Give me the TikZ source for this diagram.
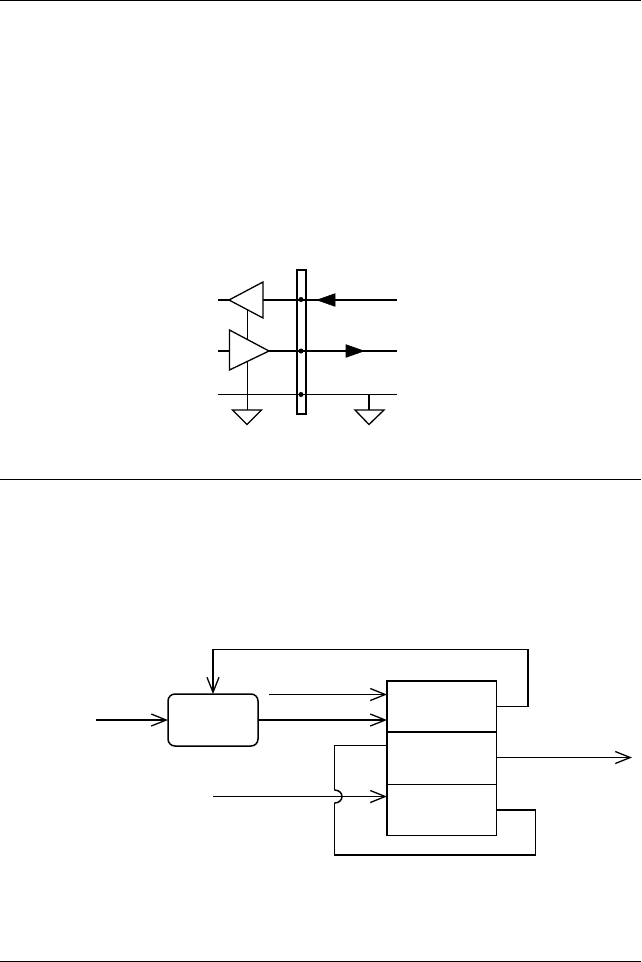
\documentclass[tikz,border=0pt]{standalone}
\usetikzlibrary{arrows.meta}
\tikzset{
  thinw/.style={line width=1pt},
  thickw/.style={line width=2pt},
  barb/.style={-{Straight Barb[length=15pt,width=12pt,line width=1.3pt]}},
  solidtip/.style={fill=black,draw=black,line width=0.6pt,line join=miter},
  amp/.style={draw,fill=white,line width=1.3pt,line join=miter},
  gnd/.style={draw,fill=white,line width=1.3pt,line join=miter},
  junction/.style={circle,fill=black,inner sep=0pt,minimum size=5pt},
  block/.style={draw,rectangle,inner sep=0pt,outer sep=0pt},
}
\begin{document}
\begin{tikzpicture}[x=1pt,y=-1pt]
\useasboundingbox (0,0) rectangle (641,962);
% page rules
\coordinate (t1) at (0,0.5); \coordinate (t2) at (641,0.5);
\coordinate (m1) at (0,479.5); \coordinate (m2) at (641,479.5);
\coordinate (b1) at (0,961.5); \coordinate (b2) at (641,961.5);
\draw[thinw] (t1)--(t2);
\draw[thinw] (m1)--(m2);
\draw[thinw] (b1)--(b2);

% ---------- upper figure ----------
\node[block,line width=1.7pt,minimum width=8.5pt,minimum height=144pt] (bar) at (301.5,342) {};
\coordinate (l1a) at (218,300); \coordinate (l1b) at (397,300);
\coordinate (l2a) at (218,351); \coordinate (l2b) at (397,351);
\coordinate (l3a) at (218,394.5); \coordinate (l3b) at (397,394.5);
\draw[thickw] (l1a)--(l1b);
\draw[thickw] (l2a)--(l2b);
\draw[thinw] (l3a)--(l3b);
\coordinate (g1) at (247.5,410); \coordinate (g2top) at (369,394); \coordinate (g2) at (369,410);
\coordinate (en) at (247.5,309);
\draw[thinw] (en)--(g1);
\draw[line width=1.6pt] (g2top)--(g2);
% amplifiers
\draw[amp] (229,300)--(263,282)--(263,318)--cycle;
\draw[amp] (229.5,330)--(269,351)--(229.5,370)--cycle;
% grounds
\draw[gnd] (232.5,410)--(261.5,410)--(247,424.5)--cycle;
\draw[gnd] (355,410)--(384,410)--(369,424.5)--cycle;
% junctions
\node[junction] (d1) at (301,299.5) {};
\node[junction] (d2) at (301,351) {};
\node[junction] (d3) at (301,394.5) {};
% direction marks
\draw[solidtip] (317,300)--(335,293.7)--(335,306.3)--cycle;
\draw[solidtip] (364,351)--(346,344.7)--(346,357.3)--cycle;

% ---------- lower figure ----------
\node[block,line width=1.5pt,rounded corners=7pt,minimum width=90pt,minimum height=52pt] (ctrl) at (213,720) {};
\node[block,line width=1pt,minimum width=109pt,minimum height=51pt,anchor=north west] (reg1) at (387.5,681.5) {};
\node[block,line width=1pt,minimum width=109pt,minimum height=52pt,anchor=north west] (reg2) at (387.5,732.5) {};
\node[block,line width=1pt,minimum width=109pt,minimum height=51pt,anchor=north west] (reg3) at (387.5,784.5) {};
\draw[thickw] (387,732)--(497,732);
\draw[thickw] (387,681)--(497,681);
\draw[thickw] (387,680)--(387,836);

% input to ctrl
\coordinate (inA) at (95.5,720);
\draw[thickw,barb] (inA)--(ctrl.west);
% ctrl to reg
\draw[thickw,barb] (ctrl.east)--(387,720);
% thin input
\coordinate (inB) at (269,694.5);
\draw[thinw,barb] (inB)--(387,694.5);
% feedback
\coordinate (fb) at (496.5,706.5);
\draw[thinw] (fb)--(527.5,706.5);
\draw[thickw] (528,707)--(528,649);
\draw[thinw] (528,649.5)--(213,649.5);
\draw[thickw,barb] (213,649)--(ctrl.north);
% output
\coordinate (outA) at (632,757.5);
\draw[thinw,barb] (496.5,757.5)--(outA);
% crossing input
\coordinate (inC) at (213,796.5);
\draw[thinw,barb] (inC)--(387,796.5);
% loop
\coordinate (lp) at (496.5,810);
\draw[thickw] (lp)--(535.5,810);
\draw[thinw] (535.5,809.5)--(535.5,855);
\draw[thickw] (536,855)--(334,855);
\draw[thinw] (334.5,855)--(334.5,803);
\draw[line width=1.5pt] (334.5,803)
  .. controls (339,803) and (342,800) .. (342,796.5)
  .. controls (342,793) and (339,790) .. (334.5,790);
\draw[thinw,line join=miter] (334.5,790) -- (334.5,745.5) -- (387,745.5);
\end{tikzpicture}
\end{document}
